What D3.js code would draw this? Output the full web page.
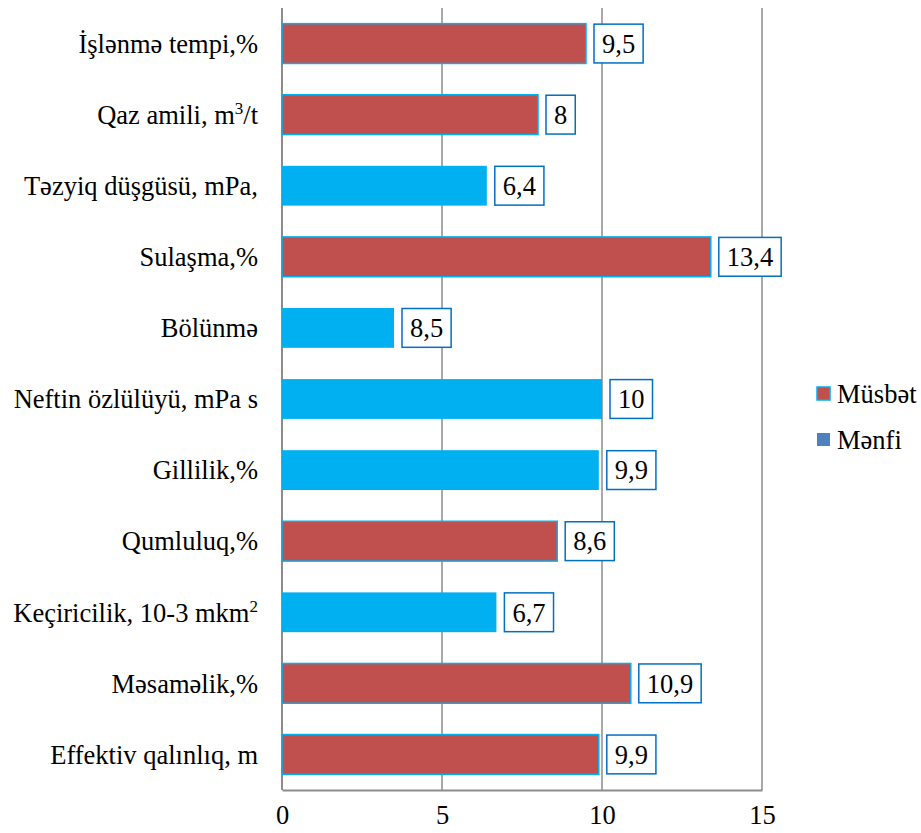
<!DOCTYPE html>
<html>
<head>
<meta charset="utf-8">
<script src="https://cdn.jsdelivr.net/npm/d3@7"></script>
<style>
  body { margin: 0; background: #fff; font-family: 'Liberation Serif', serif; }
  svg text { font-family: 'Liberation Serif', serif !important; fill: #000; }
</style>
</head>
<body>
<figure id="factors" style="margin:0"></figure>
<script>
// categories, top to bottom
var categories = ["İşlənmə tempi,%", "Qaz amili, m3/t", "Təzyiq düşgüsü, mPa,", "Sulaşma,%",
  "Bölünmə", "Neftin özlülüyü, mPa s", "Gillilik,%", "Qumluluq,%",
  "Keçiricilik, 10-3 mkm2", "Məsaməlik,%", "Effektiv qalınlıq, m"];
// bar lengths as drawn
var values = [9.5, 8, 6.4, 13.4, 3.5, 10, 9.9, 8.6, 6.7, 10.9, 9.9];
// data label texts
var labels = ["9,5", "8", "6,4", "13,4", "8,5", "10", "9,9", "8,6", "6,7", "10,9", "9,9"];
// series of each bar
var series = ["Müsbət", "Müsbət", "Mənfi", "Müsbət", "Mənfi", "Mənfi", "Mənfi", "Müsbət",
  "Mənfi", "Müsbət", "Müsbət"];
var legendNames = ["Müsbət", "Mənfi"];
var xTicks = [0, 5, 10, 15];

var data = categories.map(function(c, i) {
  return {cat: c, value: values[i], label: labels[i], series: series[i]};
});

var W = 921, H = 833;
var FS = "26.5px";
var barFill = {"Müsbət": "#C0504D", "Mənfi": "#00B0F0"};
var legendFill = {"Müsbət": "#C0504D", "Mənfi": "#4F81BD"};

var svg = d3.select("figure#factors")
  .append("svg")
    .attr("width", W)
    .attr("height", H)
    .style("font-family", "'Liberation Serif', serif");

var x = d3.scaleLinear()
  .domain([0, 15])
  .range([282, 762]);

var y = d3.scaleBand()
  .domain(categories)
  .range([8, 790])
  .paddingInner(0.44)
  .paddingOuter(0.22);

// gridlines
svg.append("g")
  .selectAll("line")
  .data(xTicks)
  .enter()
  .append("line")
    .attr("x1", function(d) { return x(d); })
    .attr("x2", function(d) { return x(d); })
    .attr("y1", 8)
    .attr("y2", 790)
    .attr("stroke", "#8c8c8c")
    .attr("stroke-width", function(d) { return d === 0 ? 2 : 1.5; });

// bottom axis
var xAxis = svg.append("g")
  .attr("transform", "translate(0,790)")
  .call(d3.axisBottom(x).tickValues(xTicks).tickSize(0).tickPadding(15))
  .attr("font-family", null)
  .attr("font-size", null);
xAxis.select(".domain").attr("stroke", "#8c8c8c").attr("stroke-width", 2);
xAxis.selectAll("text").style("font-size", FS);

// bars
svg.append("g")
  .selectAll("rect")
  .data(data)
  .enter()
  .append("rect")
    .attr("x", x(0))
    .attr("y", function(d) { return y(d.cat); })
    .attr("width", function(d) { return x(d.value) - x(0); })
    .attr("height", y.bandwidth())
    .attr("fill", function(d) { return barFill[d.series]; })
    .attr("stroke", "#00B0F0")
    .attr("stroke-width", function(d) { return d.series === "Müsbət" ? 1.5 : 0; });

// category labels (with superscripts)
var cats = svg.append("g")
  .selectAll("text")
  .data(data)
  .enter()
  .append("text")
    .attr("x", 258)
    .attr("y", function(d) { return y(d.cat) + y.bandwidth() / 2; })
    .attr("dy", "0.35em")
    .attr("text-anchor", "end")
    .style("font-size", FS);
cats.each(function(d) {
  var t = d3.select(this);
  var m = d.cat.match(/^(.*m)([23])(\/t)?$/);
  if (m) {
    t.append("tspan").text(m[1]);
    t.append("tspan").attr("dy", -10).style("font-size", "17px").text(m[2]);
    t.append("tspan").attr("dy", 10).text(m[3] || "");
  } else {
    t.text(d.cat);
  }
});

// data labels in boxes
var lab = svg.append("g")
  .selectAll("g")
  .data(data)
  .enter()
  .append("g");
lab.append("text")
    .attr("y", function(d) { return y(d.cat) + y.bandwidth() / 2; })
    .attr("dy", "0.35em")
    .attr("text-anchor", "middle")
    .style("font-size", FS)
    .text(function(d) { return d.label; });
lab.each(function(d) {
  var g = d3.select(this);
  var tw = g.select("text").node().getComputedTextLength();
  var bw = tw + 16;
  var x0 = x(d.value) + 8;
  g.insert("rect", "text")
    .attr("x", x0)
    .attr("y", y(d.cat) + 0.5)
    .attr("width", bw)
    .attr("height", y.bandwidth() - 1)
    .attr("fill", "#fff")
    .attr("stroke", "#0070C0")
    .attr("stroke-width", 1.5);
  g.select("text").attr("x", x0 + bw / 2);
});

// legend
var leg = svg.append("g")
  .selectAll("g")
  .data(legendNames)
  .enter()
  .append("g")
    .attr("transform", function(d, i) { return "translate(817," + (387 + i * 46) + ")"; });
leg.append("rect")
    .attr("width", 13)
    .attr("height", 13)
    .attr("fill", function(d) { return legendFill[d]; })
    .attr("stroke", function(d) { return d === "Müsbət" ? "#00B0F0" : "none"; })
    .attr("stroke-width", 1.5);
leg.append("text")
    .attr("x", 20)
    .attr("y", 7)
    .attr("dy", "0.35em")
    .style("font-size", FS)
    .text(function(d) { return d; });
</script>
</body>
</html>
